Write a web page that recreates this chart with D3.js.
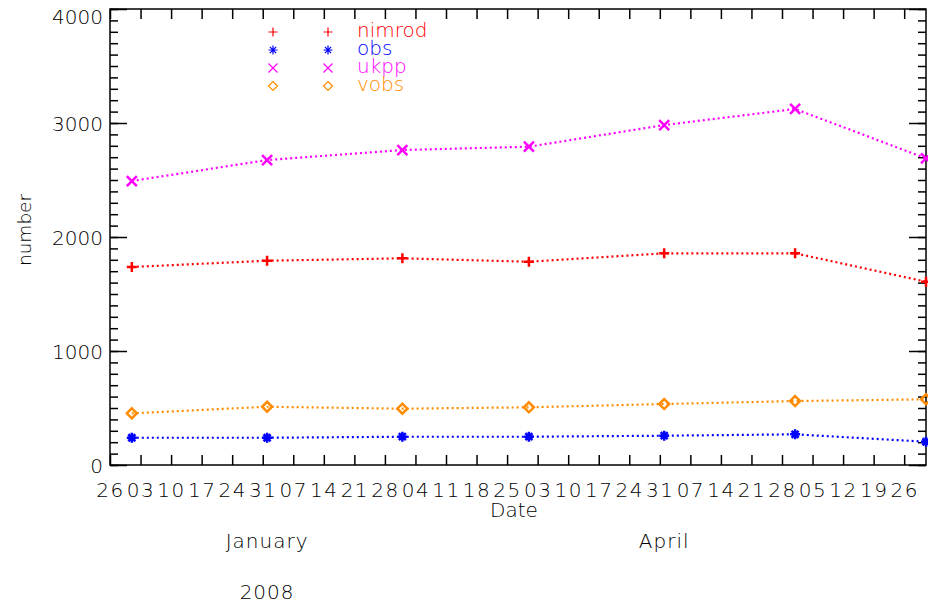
<!DOCTYPE html>
<html>
<head>
<meta charset="utf-8">
<script src="https://d3js.org/d3.v7.min.js"></script>
<style>
body { margin: 0; background: #fff; }
svg { display: block; }
text { font-family: "DejaVu Sans", sans-serif; font-size: 20px; font-weight: 200; fill: #000; }
.xlab text { letter-spacing: 1.5px; }
.month, .year { letter-spacing: 1px; }
</style>
</head>
<body>
<div id="plot"></div>
<script>

// monthly counts
var dates = ["2007-12-01", "2008-01-01", "2008-02-01", "2008-03-01", "2008-04-01", "2008-05-01", "2008-05-31"];
var nimrod = [1737, 1792, 1813, 1783, 1857, 1857, 1608];
var obs = [239, 239, 248, 248, 257, 269, 204];
var ukpp = [2491, 2675, 2763, 2792, 2982, 3123, 2690];
var vobs = [453, 511, 494, 506, 535, 561, 576];

var seriesNames = ["nimrod", "obs", "ukpp", "vobs"];
var seriesColors = ["#ff0000", "#0000ff", "#ff00ff", "#ff8c00"];
var seriesSymbols = ["plus", "asterisk", "cross", "diamond"];
var seriesValues = [nimrod, obs, ukpp, vobs];

var xDomain = ["2007-11-26", "2008-05-31"];
var yMajorTicks = [0, 1000, 2000, 3000, 4000];

var width = 928, height = 604;
var plotLeft = 110, plotRight = 926, plotTop = 9, plotBottom = 465;

var parse = d3.timeParse("%Y-%m-%d");

var svg = d3.select("#plot").append("svg")
  .attr("width", width).attr("height", height);

var xScale = d3.scaleTime().domain(xDomain.map(parse)).range([plotLeft, plotRight]);
var yScale = d3.scaleLinear().domain([0, 4000]).range([plotBottom, plotTop]);

var weeks = d3.timeMonday.range(xScale.domain()[0], d3.timeDay.offset(xScale.domain()[1], 1));
var yMinor = d3.range(0, 4001, 100);

function styleAxis(g) {
  g.select(".domain").remove();
  g.selectAll(".tick line").attr("stroke", "#000").attr("stroke-width", 1.5);
  g.attr("font-family", null).attr("font-size", null);
}

// bottom axis with day labels
svg.append("g").attr("class", "xlab").attr("transform", "translate(0," + plotBottom + ")")
  .call(d3.axisBottom(xScale).tickValues(weeks).tickFormat(d3.timeFormat("%d"))
    .tickSizeInner(-10).tickSizeOuter(0).tickPadding(18))
  .call(styleAxis);

svg.append("g").attr("transform", "translate(0," + plotTop + ")")
  .call(d3.axisTop(xScale).tickValues(weeks).tickFormat("").tickSizeInner(-10).tickSizeOuter(0))
  .call(styleAxis);

// left axis, major + minor
svg.append("g").attr("transform", "translate(" + plotLeft + ",0)")
  .call(d3.axisLeft(yScale).tickValues(yMinor).tickFormat("").tickSizeInner(-8).tickSizeOuter(0))
  .call(styleAxis);
svg.append("g").attr("transform", "translate(" + plotLeft + ",0)")
  .call(d3.axisLeft(yScale).tickValues(yMajorTicks).tickFormat(d3.format("d"))
    .tickSizeInner(-17).tickSizeOuter(0).tickPadding(7))
  .call(styleAxis)
  .selectAll(".tick text")
  .attr("y", function (d) { return d === 4000 ? 8 : 1; });

// right axis
svg.append("g").attr("transform", "translate(" + plotRight + ",0)")
  .call(d3.axisRight(yScale).tickValues(yMinor).tickFormat("").tickSizeInner(-8).tickSizeOuter(0))
  .call(styleAxis);
svg.append("g").attr("transform", "translate(" + plotRight + ",0)")
  .call(d3.axisRight(yScale).tickValues(yMajorTicks).tickFormat("").tickSizeInner(-17).tickSizeOuter(0))
  .call(styleAxis);

svg.append("rect")
  .attr("x", plotLeft).attr("y", plotTop)
  .attr("width", plotRight - plotLeft).attr("height", plotBottom - plotTop)
  .attr("fill", "none").attr("stroke", "#000").attr("stroke-width", 1.5);

// axis titles, month and year rows
svg.append("text").attr("x", 514).attr("y", 517).attr("text-anchor", "middle").text("Date");

var quarters = d3.timeMonth.every(3).range(xScale.domain()[0], xScale.domain()[1]);
svg.selectAll(".month").data(quarters).enter().append("text")
  .attr("class", "month")
  .attr("x", function (d) { return xScale(d); })
  .attr("y", 548)
  .attr("text-anchor", "middle")
  .text(d3.timeFormat("%B"));

var years = d3.timeYear.range(xScale.domain()[0], xScale.domain()[1]);
svg.selectAll(".year").data(years).enter().append("text")
  .attr("class", "year")
  .attr("x", function (d) { return xScale(d); })
  .attr("y", 599)
  .attr("text-anchor", "middle")
  .text(d3.timeFormat("%Y"));

svg.append("text").attr("transform", "translate(31," + 230 + ") rotate(-90)")
  .attr("text-anchor", "middle").style("font-size", "18.5px").text("number");

// symbol paths
function symbolPath(kind, s) {
  var d = s * 0.7;
  if (kind === "plus") return "M" + (-s) + ",0H" + s + "M0," + (-s) + "V" + s;
  if (kind === "cross") return "M" + (-s) + "," + (-s) + "L" + s + "," + s + "M" + (-s) + "," + s + "L" + s + "," + (-s);
  if (kind === "diamond") return "M0," + (-s) + "L" + s + ",0L0," + s + "L" + (-s) + ",0Z";
  return "M" + (-s) + ",0H" + s + "M0," + (-s) + "V" + s +
    "M" + (-d) + "," + (-d) + "L" + d + "," + d + "M" + (-d) + "," + d + "L" + d + "," + (-d);
}

var line = d3.line()
  .x(function (d) { return xScale(d.date); })
  .y(function (d) { return yScale(d.value); });

seriesNames.forEach(function (name, i) {
  var points = dates.map(function (dt, j) { return { date: parse(dt), value: seriesValues[i][j] }; });

  svg.append("path").datum(points)
    .attr("d", line)
    .attr("fill", "none")
    .attr("stroke", seriesColors[i])
    .attr("stroke-width", 2.2)
    .attr("stroke-dasharray", "2,3");

  svg.selectAll(".sym" + i).data(points).enter().append("path")
    .attr("class", "sym" + i)
    .attr("transform", function (d) { return "translate(" + xScale(d.date) + "," + yScale(d.value) + ")"; })
    .attr("d", symbolPath(seriesSymbols[i], 5))
    .attr("fill", "none")
    .attr("stroke", seriesColors[i])
    .attr("stroke-width", 2.5);

  // legend row
  var ly = 32 + i * 18;
  [273, 328].forEach(function (lx) {
    svg.append("path")
      .attr("transform", "translate(" + lx + "," + ly + ")")
      .attr("d", symbolPath(seriesSymbols[i], 4.5))
      .attr("fill", "none")
      .attr("stroke", seriesColors[i])
      .attr("stroke-width", 1.2);
  });
  svg.append("text")
    .attr("x", 357).attr("y", ly + 5)
    .style("fill", seriesColors[i])
    .text(name);
});

</script>
</body>
</html>
